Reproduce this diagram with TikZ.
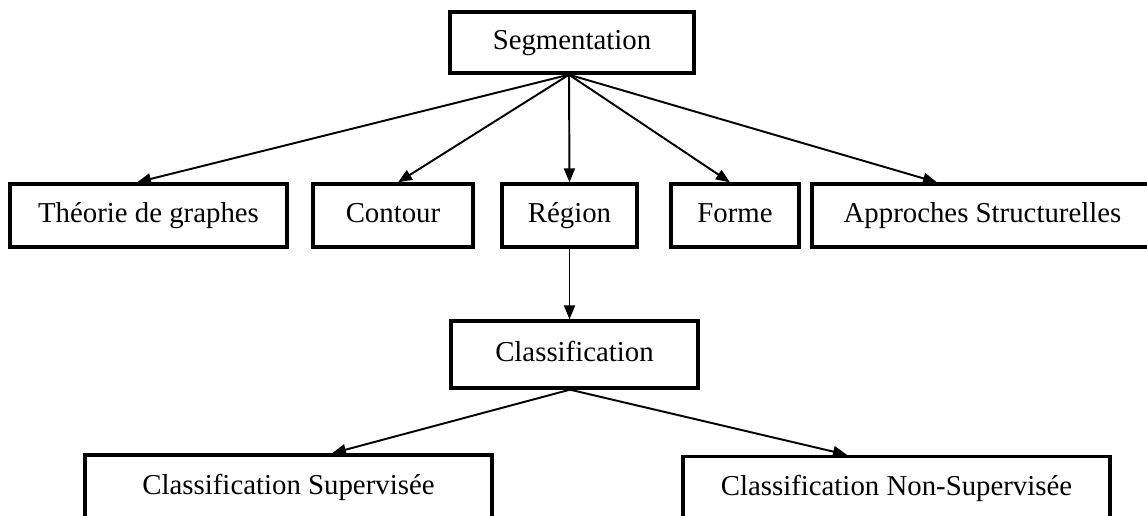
\documentclass[tikz,border=0pt]{standalone}
\usepackage{fontspec}
\setmainfont{Liberation Serif}
\usepackage{tikz}
\usetikzlibrary{arrows.meta}
\usetikzlibrary{positioning, calc}

\begin{document}
\begin{tikzpicture}[
    box/.style={draw, line width=1.9pt, inner sep=0pt, minimum height=1.26cm,
                text height=12pt, text depth=4pt,
                font=\fontsize{16.4}{19}\selectfont},
    fleche/.style={line width=1.1pt, -{Triangle[length=0.28cm, width=0.22cm]}}
    ]
    \useasboundingbox (0,0) rectangle (22.94,-10.3);
    \clip (0,0) rectangle (22.94,-10.3);

    \node[box, minimum width=4.88cm, minimum height=1.22cm] (seg) at (11.44,-0.85) {Segmentation};

    % methodes de segmentation
    \foreach \n/\x/\w/\t in {
        theo/2.97/5.54/{Théorie de graphes},
        contour/7.86/3.20/{Contour},
        region/11.39/2.70/{Région},
        forme/14.70/2.56/{Forme},
        appr/19.65/6.82/{Approches Structurelles}}
        \node[box, minimum width=\w cm] (\n) at (\x,-4.31) {\t};

    \node[box, minimum width=4.94cm, minimum height=1.34cm] (class) at (11.49,-7.09) {Classification};

    \node[box, minimum width=8.14cm, minimum height=1.30cm] (sup) at (5.77,-9.75) {Classification Supervisée};
    \node[box, minimum width=8.54cm] (nonsup) at (17.93,-9.76) {Classification Non-Supervisée};

    \coordinate (hub) at ([xshift=-0.06cm]seg.south);
    \coordinate (bas) at ([xshift=-0.09cm]class.south);

    \draw[fleche] (hub) -- ([xshift=-0.23cm]theo.north);
    \draw[fleche] (hub) -- ([xshift=0.10cm]contour.north);
    \draw[fleche] (hub) -- (region.north);
    \draw[fleche] (hub) -- ([xshift=-0.10cm]forme.north);
    \draw[fleche] (hub) -- ([xshift=-0.91cm]appr.north);

    \draw[fleche] (region.south) -- (region.south |- class.north);

    \draw[fleche] (bas) -- ([xshift=0.87cm]sup.north);
    \draw[fleche] (bas) -- ([xshift=-0.99cm]nonsup.north);
\end{tikzpicture}
\end{document}
